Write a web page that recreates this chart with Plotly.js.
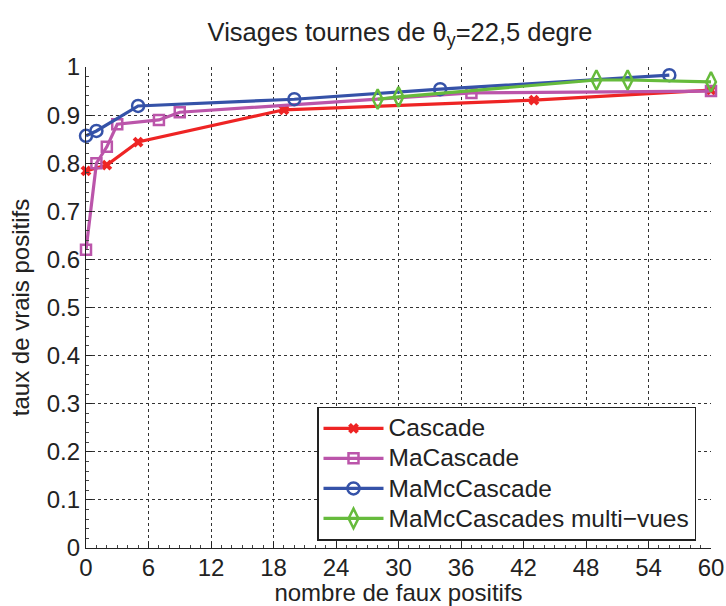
<!DOCTYPE html>
<html><head><meta charset="utf-8">
<script src="https://cdn.plot.ly/plotly-3.0.1.min.js"></script>
<style>html,body{margin:0;padding:0;background:#fff}</style>
</head><body>
<div id="chart" style="width:726px;height:606px"></div>
<script>
const cascadeX = [0, 2, 5, 19, 43, 60];
const cascadeY = [0.784, 0.796, 0.844, 0.911, 0.931, 0.952];
const maCascadeX = [0, 1, 2, 3, 7, 9, 37, 60];
const maCascadeY = [0.620, 0.800, 0.834, 0.881, 0.890, 0.906, 0.946, 0.950];
const maMcCascadeX = [0, 1, 5, 20, 34, 56];
const maMcCascadeY = [0.857, 0.867, 0.919, 0.933, 0.954, 0.983];
const multiVuesX = [28, 30, 49, 52, 60];
const multiVuesY = [0.933, 0.938, 0.973, 0.973, 0.969];
const names = ['Cascade', 'MaCascade', 'MaMcCascade', 'MaMcCascades multi\u2212vues'];
const xTicks = [0, 6, 12, 18, 24, 30, 36, 42, 48, 54, 60];
const yTicks = [0, 0.1, 0.2, 0.3, 0.4, 0.5, 0.6, 0.7, 0.8, 0.9, 1];
const yTickText = ['0', '0.1', '0.2', '0.3', '0.4', '0.5', '0.6', '0.7', '0.8', '0.9', '1'];

const FONT = '"Liberation Sans", Arial, Helvetica, sans-serif';
const legendLabel = (s) => '<span style="font-size:24.5px">' + s + '</span>';
const mk = (x, y, name, color, symbol, size) => ({
  x, y, name: legendLabel(name), type: 'scatter', mode: 'lines+markers', cliponaxis: false,
  line: {color, width: 3.2},
  marker: {symbol, size, color, line: {color, width: 2.5}}
});
const traces = [
  mk(cascadeX, cascadeY, names[0], '#ee2424', 'x-thin-open', 8),
  mk(maCascadeX, maCascadeY, names[1], '#bb55aa', 'square-open', 10),
  mk(maMcCascadeX, maMcCascadeY, names[2], '#3552a8', 'circle-open', 12),
  mk(multiVuesX, multiVuesY, names[3], '#66bb3c', 'diamond-tall-open', 14)
];
traces[0].marker.line.width = 4;

const layout = {
  width: 726, height: 606,
  margin: {l: 86, r: 15, t: 67, b: 58},
  paper_bgcolor: '#fff', plot_bgcolor: '#fff',
  font: {family: FONT, size: 24, color: '#222'},
  title: {text: 'Visages tournes de \u03b8<sub>y</sub>=22,5 degre', x: 0.551, xanchor: 'center', y: 0.947, yanchor: 'middle', font: {size: 25.5, family: FONT, color: '#222'}},
  xaxis: {
    range: [0, 60], tickvals: xTicks, ticktext: xTicks.map(String),
    showgrid: true, gridcolor: '#333', griddash: 'dot', gridwidth: 1,
    showline: true, linecolor: '#222', linewidth: 1.2,
    ticks: 'inside', ticklen: 6, tickcolor: '#222', ticklabelstandoff: -2,
    minor: {dtick: 1, ticks: 'inside', ticklen: 3, tickcolor: '#444', showgrid: false},
    zeroline: false, fixedrange: true,
    tickfont: {size: 24, family: FONT},
    title: {text: 'nombre de faux positifs', standoff: 2, font: {size: 24, family: FONT}}
  },
  yaxis: {
    range: [0, 1], tickvals: yTicks, ticktext: yTickText,
    showgrid: true, gridcolor: '#333', griddash: 'dot', gridwidth: 1,
    showline: true, linecolor: '#222', linewidth: 1.2,
    ticks: 'inside', ticklen: 6, tickcolor: '#222',
    minor: {dtick: 0.02, ticks: 'inside', ticklen: 3, tickcolor: '#444', showgrid: false},
    zeroline: false, fixedrange: true,
    tickfont: {size: 24, family: FONT},
    title: {text: 'taux de vrais positifs', standoff: 10, font: {size: 24, family: FONT}}
  },
  showlegend: true,
  legend: {
    x: 0.3696, y: 0.015, xanchor: 'left', yanchor: 'bottom',
    bgcolor: '#fff', bordercolor: '#222', borderwidth: 1.5,
    font: {size: 20.8, family: FONT, color: '#222'},
    itemwidth: 60, tracegroupgap: 0, valign: 'middle'
  }
};
Plotly.newPlot('chart', traces, layout, {displayModeBar: false, staticPlot: true});
</script>
</body></html>
